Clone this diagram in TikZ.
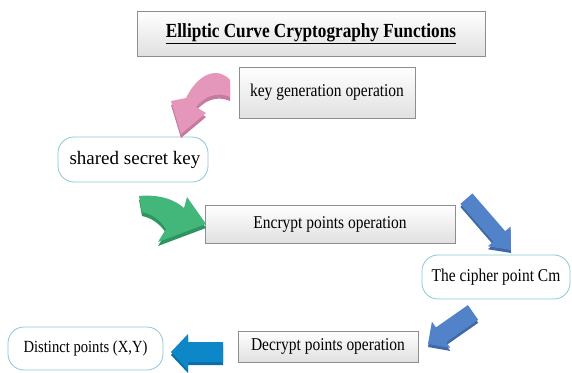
\documentclass[tikz,border=0pt]{standalone}
\usepackage{fontspec}
\usepackage{graphicx}
\setmainfont{Liberation Serif}
\usetikzlibrary{shadows}

\definecolor{pinkarrow}{HTML}{E597BB}
\definecolor{pinkside}{HTML}{C67A9E}
\definecolor{greenarrow}{HTML}{43B679}
\definecolor{greenside}{HTML}{2E9560}
\definecolor{bluearrow}{HTML}{5282C8}
\definecolor{blueside}{HTML}{3E68A8}
\definecolor{tealarrow}{HTML}{0D87C8}
\definecolor{tealside}{HTML}{0A6FA8}
\definecolor{boxline}{HTML}{8E8E8E}
\definecolor{pillline}{HTML}{8CC7D6}

\newcommand{\nar}[1]{\scalebox{0.86}[1]{#1}}
% tip, angle, length, head length, head half width, shaft half width, colour, side colour
\newcommand{\blkarrow}[8]{%
	\begin{scope}[yshift=-3pt]
		\fill[#8, shift={#1}, rotate=#2] (0,0) -- (-#4,#5) -- (-#4,#6) -- (-#3,#6) -- (-#3,-#6) -- (-#4,-#6) -- (-#4,-#5) -- cycle;
	\end{scope}
	\fill[#7, shift={#1}, rotate=#2] (0,0) -- (-#4,#5) -- (-#4,#6) -- (-#3,#6) -- (-#3,-#6) -- (-#4,-#6) -- (-#4,-#5) -- cycle;
}

\tikzset{
	opbox/.style={draw=boxline, line width=0.8pt, top color=white, bottom color=black!12,
		drop shadow={opacity=0.2, shadow xshift=1pt, shadow yshift=-1pt}, inner sep=0pt,
		font=\fontsize{18}{20}\selectfont},
	pill/.style={draw=pillline, line width=0.8pt, fill=white, rounded corners=16pt, inner sep=0pt,
		font=\fontsize{18}{20}\selectfont},
}

\begin{document}
\begin{tikzpicture}[x=1pt, y=-1pt]
		\useasboundingbox (0,0) rectangle (572,372);

		\node[opbox, minimum width=348pt, minimum height=45pt, font=\fontsize{20}{22}\selectfont\bfseries]
			(title) at (311,33.5) {\nar{\underline{Elliptic Curve Cryptography Functions}}};
		\node[opbox, minimum width=176pt, minimum height=51pt] (keygen) at (327,92.5) {\nar{key generation operation}};
		\node[pill, minimum width=150pt, minimum height=45pt, font=\fontsize{19}{21}\selectfont]
			(secret) at (133,159.5) {\hspace{4pt}shared secret key};
		\node[opbox, minimum width=250pt, minimum height=38pt] (encrypt) at (330,224) {\nar{Encrypt points operation}};
		\node[pill, minimum width=148pt, minimum height=44pt] (cipher) at (496,277) {\nar{The cipher point Cm}};
		\node[opbox, minimum width=180pt, minimum height=31pt] (decrypt) at (328,346.5) {\nar{Decrypt points operation}};
		\node[pill, minimum width=155pt, minimum height=43pt, font=\fontsize{17}{19}\selectfont]
			(distinct) at (85.5,348.5) {\nar{Distinct points (X,Y)}};

		\coordinate (p1) at (230,80);
		\coordinate (p2) at (186,98);
		\coordinate (p3) at (171,101);
		\coordinate (p4) at (181,134);
		\coordinate (p5) at (206,113);
		\coordinate (p6) at (196,107);
		\coordinate (p7) at (230,97);

		\fill[pinkarrow, drop shadow={fill=pinkside, opacity=1, shadow xshift=0pt, shadow yshift=-4pt}]
			(p1) .. controls (220,68) and (200,70) .. (p2) -- (p3) -- (p4) -- (p5) -- (p6)
			.. controls (204,97) and (216,91) .. (p7) -- cycle;

		\coordinate (g1) at (139,196);
		\coordinate (g2) at (184,208);
		\coordinate (g3) at (187,197);
		\coordinate (g4) at (206,224);
		\coordinate (g5) at (158,242);
		\coordinate (g6) at (166,229);
		\coordinate (g7) at (142,212);

		\fill[greenarrow, drop shadow={fill=greenside, opacity=1, shadow xshift=0pt, shadow yshift=-4pt}]
			(g1) .. controls (160,194) and (175,200) .. (g2) -- (g3) -- (g4) -- (g5) -- (g6)
			.. controls (160,220) and (152,214) .. (g7) -- cycle;

		\blkarrow{(511,250)}{-49}{68}{18}{15}{8}{bluearrow}{blueside}
		\blkarrow{(428,344)}{215}{55}{16}{16}{9}{bluearrow}{blueside}
		\blkarrow{(171,352)}{180}{52}{17}{18}{10}{tealarrow}{tealside}
\end{tikzpicture}
\end{document}
